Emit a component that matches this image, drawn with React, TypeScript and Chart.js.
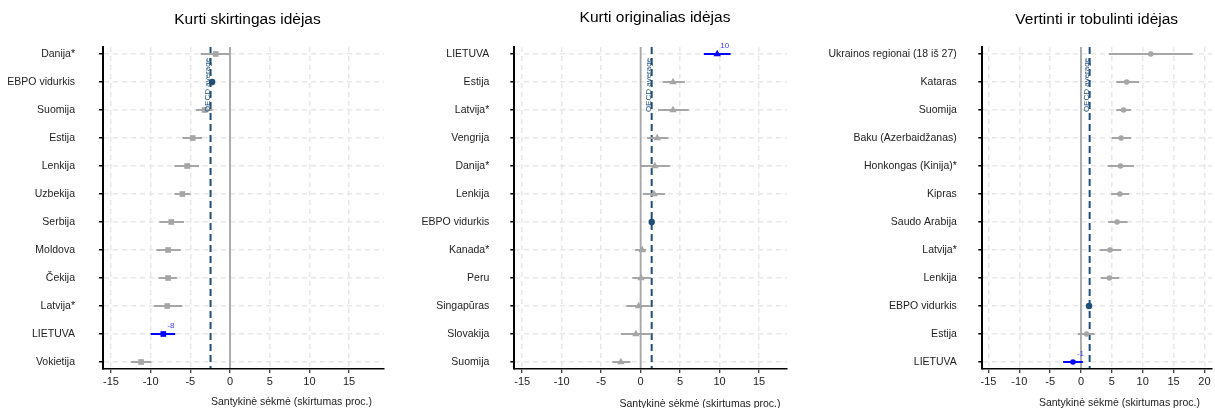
import React, { useEffect, useRef } from 'react';
import { Chart, registerables } from 'chart.js';

Chart.register(...registerables);

// ---------- data ----------
const p1Title = 'Kurti skirtingas idėjas';
const p1Countries = ['Danija*', 'EBPO vidurkis', 'Suomija', 'Estija', 'Lenkija', 'Uzbekija', 'Serbija', 'Moldova', 'Čekija', 'Latvija*', 'LIETUVA', 'Vokietija'];
const p1Estimates = [-1.8, -2.25, -3.2, -4.7, -5.4, -6.0, -7.4, -7.8, -7.8, -7.9, -8.4, -11.2];
const p1Lower = [-3.7, -2.5, -4.3, -6.0, -7.0, -7.0, -8.9, -9.3, -9.0, -9.6, -10.0, -12.5];
const p1Upper = [0.0, -2.0, -2.2, -3.5, -3.9, -5.0, -5.8, -6.2, -6.7, -6.0, -6.9, -9.9];
const p1OecdAverage = -2.45;

const p2Title = 'Kurti originalias idėjas';
const p2Countries = ['LIETUVA', 'Estija', 'Latvija*', 'Vengrija', 'Danija*', 'Lenkija', 'EBPO vidurkis', 'Kanada*', 'Peru', 'Singapūras', 'Slovakija', 'Suomija'];
const p2Estimates = [9.7, 4.1, 4.1, 2.1, 1.8, 1.7, 1.4, 0.2, 0.05, -0.25, -0.6, -2.5];
const p2Lower = [8.0, 2.8, 2.2, 0.8, 0.0, 0.3, 1.3, -0.7, -1.05, -1.8, -2.5, -3.6];
const p2Upper = [11.4, 5.6, 6.1, 3.5, 3.7, 3.1, 1.5, 0.7, 1.3, 1.3, 1.35, -1.3];
const p2OecdAverage = 1.4;

const p3Title = 'Vertinti ir tobulinti idėjas';
const p3Countries = ['Ukrainos regionai (18 iš 27)', 'Kataras', 'Suomija', 'Baku (Azerbaidžanas)', 'Honkongas (Kinija)*', 'Kipras', 'Saudo Arabija', 'Latvija*', 'Lenkija', 'EBPO vidurkis', 'Estija', 'LIETUVA'];
const p3Estimates = [11.3, 7.4, 6.9, 6.5, 6.4, 6.3, 5.85, 4.7, 4.6, 1.3, 0.9, -1.3];
const p3Lower = [4.5, 5.7, 5.7, 5.0, 4.3, 4.9, 4.4, 3.0, 3.2, 1.2, -0.5, -2.9];
const p3Upper = [18.1, 9.4, 8.1, 8.1, 8.6, 7.8, 7.55, 6.5, 6.2, 1.4, 2.2, 0.3];
const p3OecdAverage = 1.4;

const xTicksA = [-15, -10, -5, 0, 5, 10, 15];
const xTicksB = [-15, -10, -5, 0, 5, 10, 15, 20];

const xAxisTitle = 'Santykinė sėkmė (skirtumas proc.)';
const oecdLabel = 'OECD average';
const focusCountry = 'LIETUVA';
const averageCountry = 'EBPO vidurkis';

// ---------- styles ----------
const FONT = "'Liberation Sans', Arial, Helvetica, sans-serif";
const GREY = '#a6a6a6';
const BLUE = '#0000ff';
const NAVY = '#1f4e79';
const GRID = '#e8e8e8';

type Layout = {
  left: number;
  width: number;
  yAxisWidth: number;
  padRight: number;
  xMin: number;
  xMax: number;
  titleX: number;
  titleY: number;
  axisTitleX: number;
  axisTitleY: number;
  labelPad: number;
};

type PanelProps = {
  title: string;
  countries: string[];
  estimates: number[];
  lower: number[];
  upper: number[];
  oecd: number;
  ticks: number[];
  marker: 'rect' | 'triangle' | 'circle';
  markerRadius: number;
  layout: Layout;
};

const HEIGHT = 408;

function Panel(props: PanelProps) {
  const ref = useRef<HTMLCanvasElement | null>(null);
  useEffect(() => {
    const canvas = ref.current;
    if (!canvas) return;
    const { countries, estimates, lower, upper, oecd, ticks, marker, markerRadius, layout, title } = props;

    const colorFor = (i: number) =>
      countries[i] === focusCountry ? BLUE : countries[i] === averageCountry ? NAVY : GREY;

    const overlay = {
      id: 'overlay',
      beforeDatasetsDraw(chart: any) {
        const ctx = chart.ctx;
        const xs = chart.scales.x;
        const ys = chart.scales.y;
        const area = chart.chartArea;
        ctx.save();
        ctx.beginPath();
        ctx.rect(area.left + 1, area.top, area.right - area.left, area.bottom - area.top - 1);
        ctx.clip();
        // zero line
        const x0 = xs.getPixelForValue(0);
        ctx.strokeStyle = GREY;
        ctx.lineWidth = 1.8;
        ctx.beginPath();
        ctx.moveTo(x0, area.top);
        ctx.lineTo(x0, area.bottom);
        ctx.stroke();
        // OECD average dashed line
        const xo = xs.getPixelForValue(oecd);
        ctx.strokeStyle = NAVY;
        ctx.lineWidth = 2;
        ctx.setLineDash([7, 4]);
        ctx.beginPath();
        ctx.moveTo(xo, area.top);
        ctx.lineTo(xo, area.bottom);
        ctx.stroke();
        ctx.setLineDash([]);
        // whiskers
        for (let i = 0; i < countries.length; i++) {
          const y = ys.getPixelForValue(i);
          ctx.strokeStyle = colorFor(i);
          ctx.lineWidth = 2;
          ctx.beginPath();
          ctx.moveTo(xs.getPixelForValue(lower[i]), y);
          ctx.lineTo(xs.getPixelForValue(upper[i]), y);
          ctx.stroke();
        }
        ctx.restore();
      },
      afterDatasetsDraw(chart: any) {
        const ctx = chart.ctx;
        const xs = chart.scales.x;
        const ys = chart.scales.y;
        const area = chart.chartArea;
        ctx.save();
        // OECD average text
        const xo = xs.getPixelForValue(oecd);
        ctx.translate(xo - 2.5, area.top + 38);
        ctx.rotate(-Math.PI / 2);
        ctx.fillStyle = NAVY;
        ctx.font = `8px ${FONT}`;
        ctx.textAlign = 'center';
        ctx.textBaseline = 'middle';
        ctx.fillText(oecdLabel, 0, 0);
        ctx.restore();
        // focus value label
        ctx.save();
        const fi = countries.indexOf(focusCountry);
        if (fi >= 0) {
          ctx.fillStyle = '#3a3aff';
          ctx.font = `8px ${FONT}`;
          ctx.textAlign = 'center';
          ctx.textBaseline = 'middle';
          ctx.fillText(String(Math.round(estimates[fi])), xs.getPixelForValue(estimates[fi]) + 7.5, ys.getPixelForValue(fi) - 8.5);
        }
        ctx.restore();
      },
      afterDraw(chart: any) {
        const ctx = chart.ctx;
        ctx.save();
        ctx.fillStyle = '#000';
        ctx.textAlign = 'center';
        ctx.textBaseline = 'middle';
        ctx.font = `15.5px ${FONT}`;
        ctx.fillText(title, layout.titleX, layout.titleY);
        ctx.fillStyle = '#222';
        ctx.font = `10.5px ${FONT}`;
        ctx.fillText(xAxisTitle, layout.axisTitleX, layout.axisTitleY);
        ctx.restore();
      },
    };

    const chart = new Chart(canvas, {
      type: 'scatter',
      data: {
        datasets: [
          {
            data: estimates.map((v, i) => ({ x: v, y: i })),
            pointStyle: countries.map((c) => (c === averageCountry ? 'circle' : marker)) as any,
            pointRadius: countries.map((c) => (c === averageCountry ? 3.2 : markerRadius)),
            pointBackgroundColor: countries.map((_, i) => colorFor(i)),
            pointBorderColor: countries.map((_, i) => colorFor(i)),
            pointBorderWidth: 0,
            pointHoverRadius: 0,
          },
        ],
      },
      options: {
        animation: false,
        responsive: false,
        maintainAspectRatio: false,
        events: [],
        layout: { padding: { left: 0, top: 47, right: layout.padRight, bottom: 0 } },
        plugins: {
          legend: { display: false },
          tooltip: { enabled: false },
          title: { display: false },
        },
        scales: {
          x: {
            type: 'linear',
            min: layout.xMin,
            max: layout.xMax,
            afterBuildTicks: (axis: any) => {
              axis.ticks = ticks.map((v) => ({ value: v }));
            },
            afterFit: (axis: any) => {
              axis.height = HEIGHT - 369;
            },
            ticks: {
              font: { family: FONT, size: 11 },
              color: '#222',
              padding: 2,
              maxRotation: 0,
              autoSkip: false,
            },
            grid: {
              color: GRID,
              lineWidth: 1.5,
              drawTicks: true,
              tickLength: 4,
              tickColor: '#000',
              tickWidth: 1,
              tickBorderDash: [],
            },
            border: { display: true, color: '#000', width: 1.6, dash: [5, 4] },
          },
          y: {
            type: 'linear',
            reverse: true,
            min: -0.25,
            max: countries.length - 0.75,
            afterBuildTicks: (axis: any) => {
              axis.ticks = countries.map((_, i) => ({ value: i }));
            },
            afterFit: (axis: any) => {
              axis.width = layout.yAxisWidth;
            },
            ticks: {
              font: { family: FONT, size: 10.5 },
              color: '#222',
              padding: layout.labelPad,
              autoSkip: false,
              callback: (v: any) => countries[Number(v)] ?? '',
            },
            grid: {
              color: GRID,
              lineWidth: 1.5,
              drawTicks: true,
              tickLength: 4,
              tickColor: '#000',
              tickWidth: 1.5,
              tickBorderDash: [],
            },
            border: { display: true, color: '#000', width: 2, dash: [5, 4] },
          },
        },
      },
      plugins: [overlay],
    } as any);

    return () => chart.destroy();
  }, []);

  const { layout } = props;
  return (
    <canvas
      ref={ref}
      width={layout.width}
      height={HEIGHT}
      style={{ position: 'absolute', left: layout.left, top: 0, width: layout.width, height: HEIGHT }}
    />
  );
}

export default function App() {
  return (
    <div style={{ position: 'absolute', left: 0, top: 0, width: 1215, height: HEIGHT, background: '#fff', overflow: 'hidden' }}>
      <Panel
        title={p1Title}
        countries={p1Countries}
        estimates={p1Estimates}
        lower={p1Lower}
        upper={p1Upper}
        oecd={p1OecdAverage}
        ticks={xTicksA}
        marker="rect"
        markerRadius={4}
        layout={{ left: 0, width: 400, yAxisWidth: 103, padRight: 16, xMin: -16, xMax: 19.4, titleX: 247.5, titleY: 20, axisTitleX: 291.5, axisTitleY: 402, labelPad: 24 }}
      />
      <Panel
        title={p2Title}
        countries={p2Countries}
        estimates={p2Estimates}
        lower={p2Lower}
        upper={p2Upper}
        oecd={p2OecdAverage}
        ticks={xTicksA}
        marker="triangle"
        markerRadius={4.3}
        layout={{ left: 400, width: 400, yAxisWidth: 114.3, padRight: 13.3, xMin: -16, xMax: 18.5, titleX: 255, titleY: 18, axisTitleX: 300, axisTitleY: 404, labelPad: 21 }}
      />
      <Panel
        title={p3Title}
        countries={p3Countries}
        estimates={p3Estimates}
        lower={p3Lower}
        upper={p3Upper}
        oecd={p3OecdAverage}
        ticks={xTicksB}
        marker="circle"
        markerRadius={2.8}
        layout={{ left: 800, width: 415, yAxisWidth: 182.3, padRight: 0, xMin: -16, xMax: 21.2, titleX: 296.7, titleY: 20, axisTitleX: 319.4, axisTitleY: 403, labelPad: 21.5 }}
      />
    </div>
  );
}
